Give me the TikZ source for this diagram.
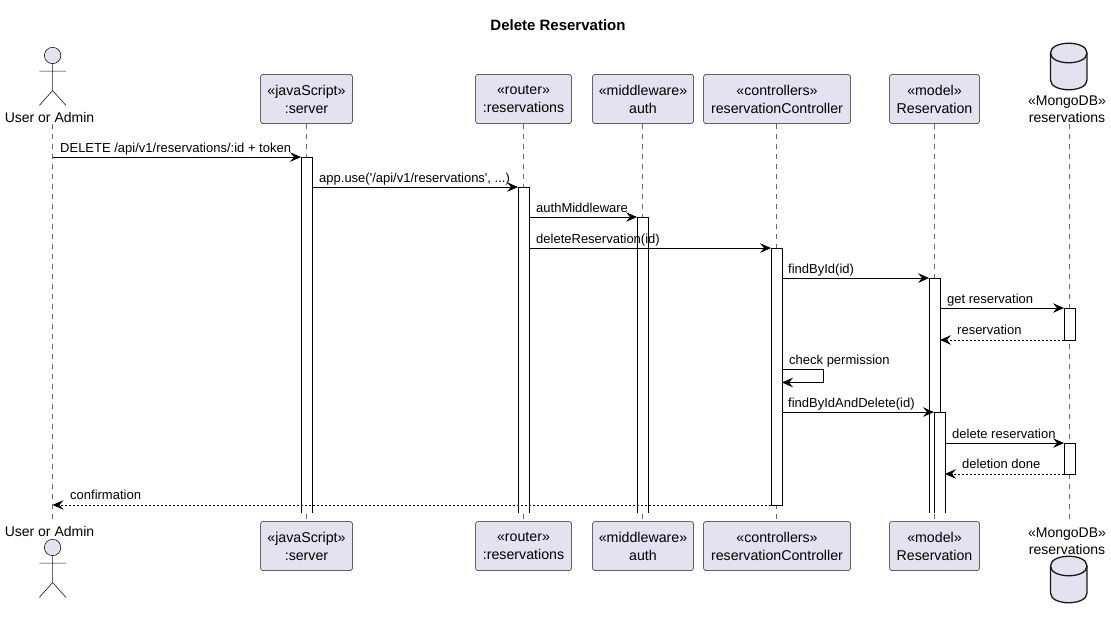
\documentclass[tikz,border=0pt]{standalone}
\usepackage{fontspec}
\setmainfont[Ligatures=TeXOff]{Liberation Sans}
\usetikzlibrary{arrows.meta}
\definecolor{partfill}{HTML}{E2E2F0}
\definecolor{partline}{HTML}{181818}
\definecolor{lifeline}{HTML}{6A6A6A}
\tikzset{
  part/.style={draw=partline,fill=partfill,line width=.5pt,rounded corners=2.5pt,align=center,inner sep=0pt,minimum height=49pt,font=\fontsize{14.2}{18}\selectfont,execute at begin node=\rule{0pt}{12pt}},
  plain/.style={align=center,inner sep=0pt,font=\fontsize{14}{17}\selectfont},
  life/.style={draw=lifeline,line width=.6pt,dash pattern=on 5pt off 5pt},
  msg/.style={draw=black,line width=.9pt,-{Stealth[length=11pt,width=9.5pt,inset=4pt]}},
  ret/.style={msg,dash pattern=on 2pt off 2pt},
  lab/.style={anchor=base west,inner sep=0pt,font=\fontsize{13}{15}\selectfont},
  bar/.style={fill=white,inner sep=0pt,minimum width=10pt,line width=.9pt},
  figline/.style={draw=partline,line width=.6pt},
  figfill/.style={figline,fill=partfill},
  dbshape/.style={draw=partline,fill=partfill,line width=1.3pt},
}
\newcommand{\actbar}[4]{%
  \node[bar,minimum height=#4pt-#3pt] (#1) at (#2,{(#3+#4)/2}) {};}
\newcommand{\opentop}[1]{\draw[line width=.9pt] (#1.south west)--(#1.north west)--(#1.north east)--(#1.south east);}
\newcommand{\closedbox}[1]{\draw[line width=.9pt] (#1.south west) rectangle (#1.north east);}
\newcommand{\stickman}[1]{%
  \draw[figfill] (52.6,#1) circle (8.2pt);
  \draw[figline] (52.6,#1+8.2)--(52.6,#1+35) (39.3,#1+15.6)--(66,#1+15.6) (39.3,#1+50)--(52.6,#1+35)--(66,#1+50);}
\newcommand{\dbdrum}[1]{%
  \draw[dbshape] (1050.5,#1+10) .. controls (1050.5,#1-3) and (1087,#1-3) .. (1087,#1+10) -- (1087,#1+37) .. controls (1087,#1+50) and (1050.5,#1+50) .. (1050.5,#1+37) -- cycle;
  \draw[dbshape,fill=none] (1050.5,#1+10) .. controls (1050.5,#1+23) and (1087,#1+23) .. (1087,#1+10);}
\begin{document}
\begin{tikzpicture}[x=1pt,y=-1pt]
\useasboundingbox (0,0) rectangle (1111,618);
\fill[white] (0,0) rectangle (1111,618);
\node[inner sep=0pt,font=\fontsize{15}{17}\bfseries\selectfont] (title) at (558,25) {Delete Reservation};
% participants top
\node[plain] (usrT) at (49.5,117) {User or Admin};
\node[part,minimum width=92pt] (srvT) at (306.5,99) {«javaScript»\\:server};
\node[part,minimum width=96pt] (rteT) at (523.5,99) {«router»\\:reservations};
\node[part,minimum width=101pt] (autT) at (643,99) {«middleware»\\auth};
\node[part,minimum width=147pt] (ctlT) at (777,99) {«controllers»\\reservationController};
\node[part,minimum width=90pt] (modT) at (934.5,99) {«model»\\Reservation};
\node[plain] (monT) at (1067,109) {«MongoDB»\\reservations};
% participants bottom
\node[plain] (usrB) at (49.5,531) {User or Admin};
\node[part,minimum width=92pt] (srvB) at (306.5,546) {«javaScript»\\:server};
\node[part,minimum width=96pt] (rteB) at (523.5,546) {«router»\\:reservations};
\node[part,minimum width=101pt] (autB) at (643,546) {«middleware»\\auth};
\node[part,minimum width=147pt] (ctlB) at (777,546) {«controllers»\\reservationController};
\node[part,minimum width=90pt] (modB) at (934.5,546) {«model»\\Reservation};
\node[plain] (monB) at (1067,541) {«MongoDB»\\reservations};
% lifelines
\coordinate (lu1) at (52.5,124); \coordinate (lu2) at (52.5,519);
\coordinate (lm1) at (1069.5,124); \coordinate (lm2) at (1069.5,519);
\draw[life] (lu1)--(lu2);
\draw[life] (lm1)--(lm2);
\draw[life] (srvT.south)--(srvB.north);
\draw[life] (rteT.south)--(rteB.north);
\draw[life] (642.5,0 |- autT.south)--(642.5,0 |- autB.north);
\draw[life] (776.5,0 |- ctlT.south)--(776.5,0 |- ctlB.north);
\draw[life] (modT.south)--(modB.north);
% figures
\stickman{55.5}
\stickman{547.5}
\dbdrum{43}
\dbdrum{556}
% activation bars
\actbar{bs}{306.5}{157.5}{513}
\actbar{br}{523.5}{187.5}{513}
\actbar{ba}{642.5}{217.5}{513}
\actbar{bc}{776.5}{248.5}{504.5}
\actbar{bm}{934.5}{278.5}{513}
\actbar{bd}{1069.5}{308.5}{339.5}
\actbar{be}{1069.5}{443.5}{473.5}
\opentop{bs}\opentop{br}\opentop{ba}\closedbox{bc}\opentop{bm}\closedbox{bd}\closedbox{be}
\actbar{bn}{939.5}{412.5}{513}
\opentop{bn}
% messages
\draw[msg] (lu1 |- bs.north)--(bs.north west);
\node[lab] (m1) at (60,152) {DELETE /api/v1/reservations/:id + token};
\draw[msg] (bs.east |- br.north)--(br.north west);
\node[lab] (m2) at (319,182) {app.use('/api/v1/reservations', ...)};
\draw[msg] (br.east |- ba.north)--(ba.north west);
\node[lab] (m3) at (536,212) {authMiddleware};
\draw[msg] (br.east |- bc.north)--(bc.north west);
\node[lab] (m4) at (536,243) {deleteReservation(id)};
\draw[msg] (bc.east |- bm.north)--(bm.north west);
\node[lab] (m5) at (788,273) {findById(id)};
\draw[msg] (bm.east |- bd.north)--(bd.north west);
\node[lab] (m6) at (947,303) {get reservation};
\draw[ret] (bd.south west)--(bm.east |- bd.south);
\node[lab] (m7) at (957,334) {reservation};
\coordinate (selfa) at (823.5,369.5); \coordinate (selfb) at (823.5,382.5);
\draw[msg] (bc.east |- selfa)--(selfa)--(selfb)--(bc.east |- selfb);
\node[lab] (m8) at (789,364) {check permission};
\draw[msg] (bc.east |- bn.north)--(bm.west |- bn.north)--(bn.north west);
\node[lab] (m9) at (788,407) {findByIdAndDelete(id)};
\draw[msg] (bn.east |- be.north)--(be.north west);
\node[lab] (m10) at (952,438) {delete reservation};
\draw[ret] (be.south west)--(bn.east |- be.south);
\node[lab] (m11) at (962,468) {deletion done};
\draw[ret] (bc.south west)--(lu1 |- bc.south);
\node[lab] (m12) at (70,499) {confirmation};
\end{tikzpicture}
\end{document}
